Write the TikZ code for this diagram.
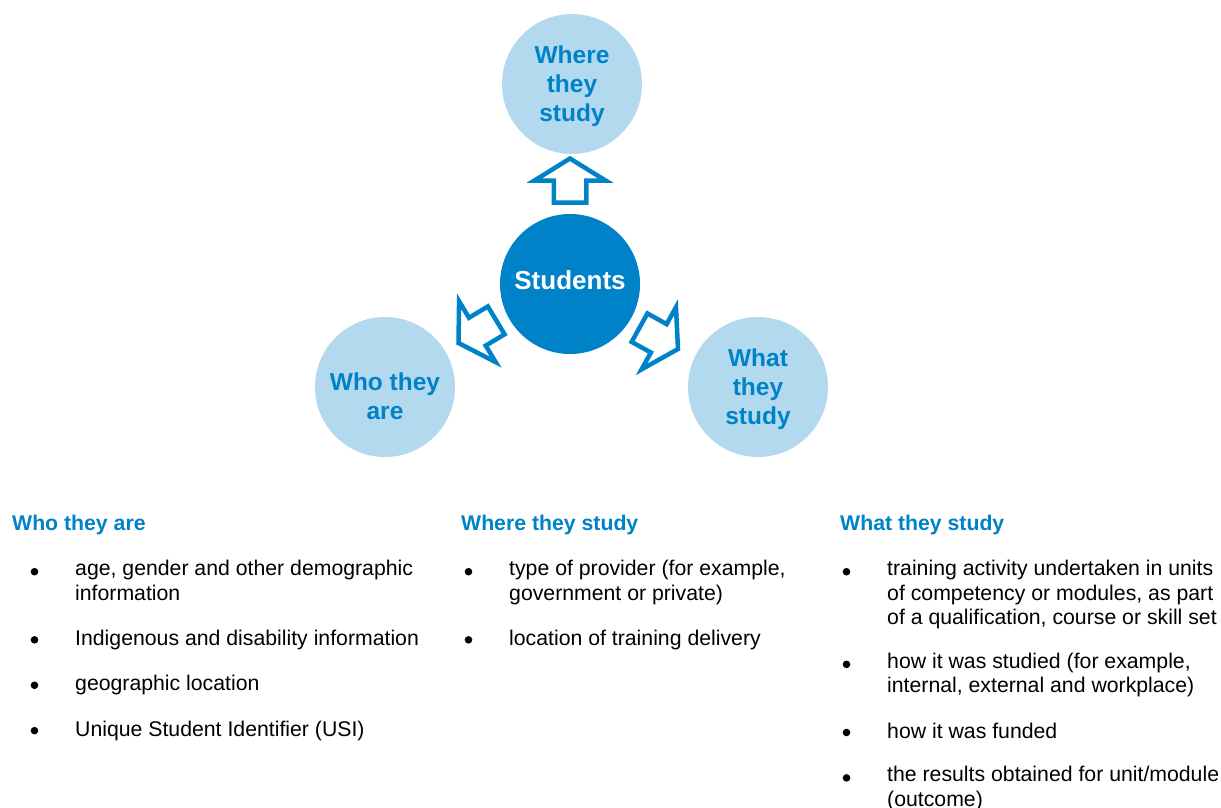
\documentclass[tikz,border=0pt]{standalone}
\usepackage{fontspec}
\setmainfont{Liberation Sans}
\usetikzlibrary{positioning}

\definecolor{ncblue}{RGB}{0,130,200}
\definecolor{nclight}{RGB}{179,217,238}

% hollow block arrow: tip, direction
\newcommand{\hollowarrow}[2]{%
  \begin{scope}[shift={#1}, rotate=#2]
    \draw[ncblue, line width=4.5pt, fill=white, line join=miter]
      (0,0) -- (-22,35.5) -- (-22,16.25) -- (-44,16.25) -- (-44,-16.25) -- (-22,-16.25) -- (-22,-35.5) -- cycle;
  \end{scope}}

\tikzset{
  bubble/.style={circle, fill=nclight, minimum size=140pt, inner sep=0pt, text=ncblue, align=center, font=\fontsize{24.5}{29}\selectfont\bfseries},
  hub/.style={circle, fill=ncblue, minimum size=140pt, inner sep=0pt, text=white, text depth=7pt, font=\fontsize{26}{30}\selectfont\bfseries},
  heading/.style={anchor=base west, inner sep=0pt, text=ncblue, font=\fontsize{21.25}{24.5}\selectfont\bfseries},
  item/.style={anchor=north west, inner sep=0pt, align=left, font=\fontsize{21.25}{24.5}\selectfont, execute at begin node=\strut, execute at end node=\strut}
}

\begin{document}
\begin{tikzpicture}[x=1pt,y=-1pt]
\useasboundingbox (0,0) rectangle (1221,807);

\node[hub] (Students) at (570,284) {Students};
\node[bubble] (Where) at (572,84) {\rule{0pt}{22pt}Where\\they\\study};
\node[bubble] (Who) at (385,387) {\rule{0pt}{36pt}Who they\\are};
\node[bubble] (What) at (758,387) {\rule{0pt}{22pt}What\\they\\study};

\hollowarrow{(570,158.5)}{90}
\hollowarrow{(458.5,343)}{211}
\hollowarrow{(678,349)}{-29}

% who they are
\node[heading] (WhoHead) at (12,530) {Who they are};
\node[item] (WhoA) at (75,560) {age, gender and other demographic\\information};
\node[item, below=20.5pt of WhoA.south west, anchor=north west] (WhoB) {Indigenous and disability information};
\node[item, below=20.5pt of WhoB.south west, anchor=north west] (WhoC) {geographic location};
\node[item, below=20.5pt of WhoC.south west, anchor=north west] (WhoD) {Unique Student Identifier (USI)};

% where they study
\node[heading] (WhereHead) at (461,530) {Where they study};
\node[item] (WhereA) at (509,560) {type of provider (for example,\\government or private)};
\node[item, below=20.5pt of WhereA.south west, anchor=north west] (WhereB) {location of training delivery};

% what they study
\node[heading] (WhatHead) at (840,530) {What they study};
\node[item] (WhatA) at (887,560) {training activity undertaken in units\\of competency or modules, as part\\of a qualification, course or skill set};
\node[item, below=20.5pt of WhatA.south west, anchor=north west] (WhatB) {how it was studied (for example,\\internal, external and workplace)};
\node[item, below=20.5pt of WhatB.south west, anchor=north west] (WhatC) {how it was funded};
\node[item, below=20.5pt of WhatC.south west, anchor=north west] (WhatD) {the results obtained for unit/module\\(outcome)};

\foreach \n in {WhoA,WhoB,WhoC,WhoD,WhereA,WhereB,WhatA,WhatB,WhatC,WhatD}
  \fill ([xshift=-40.5pt,yshift=-11.7pt]\n.north west) circle (3.8pt);
\end{tikzpicture}
\end{document}
